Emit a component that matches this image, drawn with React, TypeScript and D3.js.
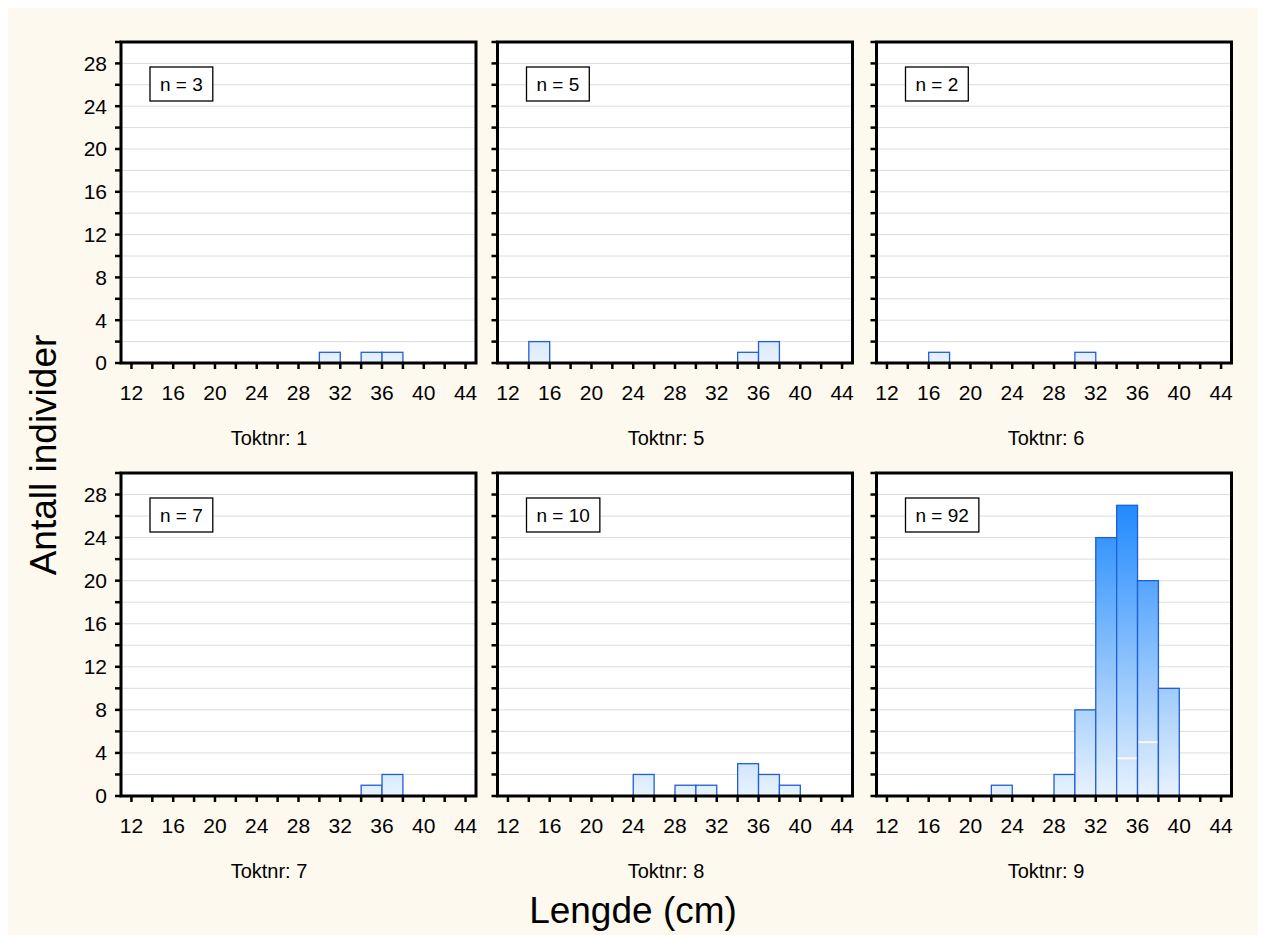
import React from "react";
import * as d3 from "d3";

const panelTitles = ["Toktnr: 1", "Toktnr: 5", "Toktnr: 6", "Toktnr: 7", "Toktnr: 8", "Toktnr: 9"];
const panelN = [3, 5, 2, 7, 10, 92];
// bin start (cm), bins are 2 cm wide
const binsP1 = [30, 34, 36];
const countsP1 = [1, 1, 1];
const binsP5 = [14, 34, 36];
const countsP5 = [2, 1, 2];
const binsP6 = [16, 30];
const countsP6 = [1, 1];
const binsP7 = [34, 36];
const countsP7 = [1, 2];
const binsP8 = [24, 28, 30, 34, 36, 38];
const countsP8 = [2, 1, 1, 3, 2, 1];
const binsP9 = [22, 28, 30, 32, 34, 36, 38];
const countsP9 = [1, 2, 8, 24, 27, 20, 10];
// thin light marks visible inside bars of the last panel
const marksP9Bins = [34, 36];
const marksP9Values = [3.5, 5];

const panelBins = [binsP1, binsP5, binsP6, binsP7, binsP8, binsP9];
const panelCounts = [countsP1, countsP5, countsP6, countsP7, countsP8, countsP9];

const xTickValues = d3.range(12, 45, 2);
const xLabelValues = [12, 16, 20, 24, 28, 32, 36, 40, 44];
const yTickValues = d3.range(0, 31, 2);
const yLabelValues = [0, 4, 8, 12, 16, 20, 24, 28];
const gridValues = d3.range(2, 30, 2);

const FONT = "Arial, 'Liberation Sans', Helvetica, sans-serif";

function measure(text: string, size: number) {
  const c = document.createElement("canvas").getContext("2d");
  if (!c) return text.length * size * 0.55;
  c.font = `${size}px ${FONT}`;
  return c.measureText(text).width;
}

export default function App() {
  const W = 1250;
  const H = 927;
  const colLeft = [121, 497.5, 876.5];
  const panelW = 355;
  const rowTop = [42, 473];
  const rowBottom = [363, 796];
  const titleCenter = [269, 666, 1046];

  return (
    <svg width={W} height={H} style={{ display: "block" }} fontFamily={FONT}>
      <rect x={0} y={0} width={W} height={H} fill="#fdf9ee" />
      <g transform="translate(-8,-8)">
        {panelTitles.map((title, i) => {
          const r = Math.floor(i / 3);
          const c = i % 3;
          const x0 = colLeft[c];
          const x1 = x0 + panelW;
          const y0 = rowTop[r];
          const y1 = rowBottom[r];
          const x = d3.scaleLinear().domain([11, 45]).range([x0, x1]);
          const y = d3.scaleLinear().domain([0, 30]).range([y1, y0]);
          const gid = `grad${i}`;
          const nText = `n = ${panelN[i]}`;
          const tw = measure(nText, 19);
          const bins = panelBins[i];
          const counts = panelCounts[i];
          return (
            <g key={i}>
              <defs>
                <linearGradient id={gid} gradientUnits="userSpaceOnUse" x1={0} x2={0} y1={y(0)} y2={y(28)}>
                  <stop offset="0" stopColor="#e8f2fd" />
                  <stop offset="1" stopColor="#1a86fd" />
                </linearGradient>
              </defs>
              <rect x={x0} y={y0} width={panelW} height={y1 - y0} fill="#ffffff" />
              {gridValues.map((g) => (
                <line key={g} x1={x0} x2={x1} y1={y(g)} y2={y(g)} stroke="#dcdcdc" strokeWidth={1} />
              ))}
              {bins.map((b, k) => (
                <rect
                  key={k}
                  x={x(b)}
                  y={y(counts[k])}
                  width={x(b + 2) - x(b)}
                  height={y(0) - y(counts[k])}
                  fill={`url(#${gid})`}
                  stroke="#1f5ed6"
                  strokeWidth={1.3}
                />
              ))}
              {i === 5 &&
                marksP9Bins.map((b, k) => (
                  <line
                    key={k}
                    x1={x(b) + 1}
                    x2={x(b + 2) - 1}
                    y1={y(marksP9Values[k])}
                    y2={y(marksP9Values[k])}
                    stroke="#fdf9ee"
                    strokeWidth={2}
                  />
                ))}
              {yTickValues.map((t) => (
                <line key={t} x1={x0 - 6} x2={x0} y1={y(t)} y2={y(t)} stroke="#000" strokeWidth={2.5} />
              ))}
              {c === 0 &&
                yLabelValues.map((t) => (
                  <text key={t} x={x0 - 14} y={y(t)} dy="0.35em" textAnchor="end" fontSize={21} fill="#000">
                    {t}
                  </text>
                ))}
              {xTickValues.map((t) => (
                <line key={t} x1={x(t)} x2={x(t)} y1={y1} y2={y1 + 6} stroke="#000" strokeWidth={2.5} />
              ))}
              {xLabelValues.map((t) => (
                <text key={t} x={x(t)} y={y1 + 30} dy="0.35em" textAnchor="middle" fontSize={21} fill="#000">
                  {t}
                </text>
              ))}
              <rect x={x0} y={y0} width={panelW} height={y1 - y0} fill="none" stroke="#000" strokeWidth={3} />
              <rect
                x={x0 + 29}
                y={y0 + 25}
                width={tw + 20}
                height={34}
                fill="#ffffff"
                stroke="#000"
                strokeWidth={1.3}
              />
              <text x={x0 + 29 + 10} y={y0 + 42} dy="0.35em" fontSize={19} fill="#000">
                {nText}
              </text>
              <text x={titleCenter[c]} y={y1 + 75} dy="0.35em" textAnchor="middle" fontSize={20} fill="#000">
                {title}
              </text>
            </g>
          );
        })}
        <text x={633} y={910} dy="0.35em" textAnchor="middle" fontSize={37} fill="#000">
          Lengde (cm)
        </text>
        <text
          transform={`translate(43,455) rotate(-90)`}
          dy="0.35em"
          textAnchor="middle"
          fontSize={37}
          fill="#000"
        >
          Antall individer
        </text>
      </g>
    </svg>
  );
}
